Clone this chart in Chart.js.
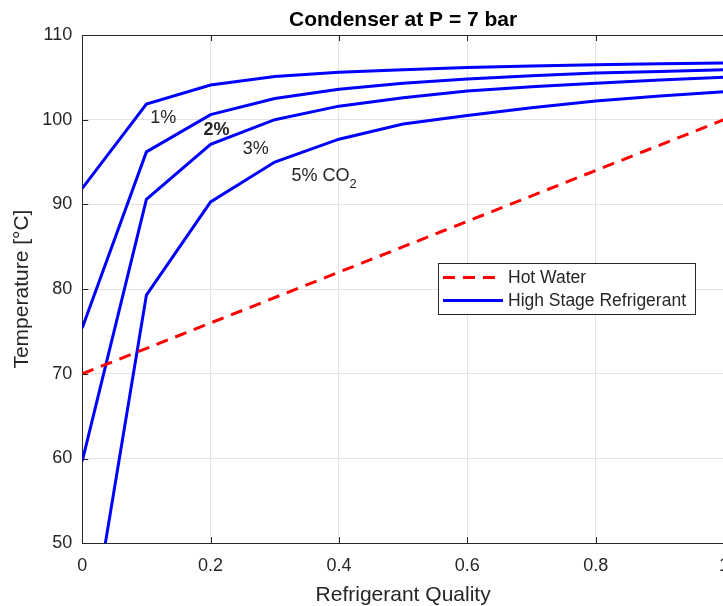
<!DOCTYPE html>
<html>
<head>
<meta charset="utf-8">
<script src="https://cdn.jsdelivr.net/npm/chart.js@4/dist/chart.umd.min.js"></script>
<style>
  html, body { margin: 0; padding: 0; background: #fff; overflow: hidden; }
  #wrap { position: relative; width: 741px; height: 606px; }
</style>
</head>
<body>
<div id="wrap"><canvas id="condenserChart"></canvas></div>
<script>
const quality = [0, 0.1, 0.2, 0.3, 0.4, 0.5, 0.6, 0.7, 0.8, 0.9, 1.0];
const refrig1 = [91.9, 101.85, 104.1, 105.1, 105.6, 105.9, 106.15, 106.35, 106.5, 106.6, 106.7];
const refrig2 = [75.4, 96.2, 100.6, 102.5, 103.6, 104.3, 104.8, 105.2, 105.5, 105.7, 105.9];
const refrig3 = [59.7, 90.6, 97.1, 100.0, 101.6, 102.6, 103.4, 103.9, 104.3, 104.7, 105.0];
const refrig5 = [33.5, 79.3, 90.3, 95.0, 97.7, 99.5, 100.5, 101.4, 102.2, 102.8, 103.3];
const hotWaterQuality = [0, 1];
const hotWater = [70, 100];
const xTicks = [0, 0.2, 0.4, 0.6, 0.8, 1];
const yTicks = [50, 60, 70, 80, 90, 100, 110];

const FONT = "'Liberation Sans', Arial, sans-serif";
const TEXT = "#262626";
const BLUE = "#0000ff";
const RED = "#ff0000";

const toPoints = (xs, ys) => xs.map((x, i) => ({ x, y: ys[i] }));

const blueLine = (label, ys, inLegend) => ({
  label,
  data: toPoints(quality, ys),
  borderColor: BLUE,
  backgroundColor: BLUE,
  borderWidth: 3,
  pointRadius: 0,
  tension: 0,
  showLine: true,
  inLegend,
});

// title centred over the plot area, not the canvas
const titlePlugin = {
  id: "axesTitle",
  afterDraw(chart) {
    const { ctx, chartArea: a } = chart;
    ctx.save();
    ctx.fillStyle = "#000";
    ctx.font = "bold 21px " + FONT;
    ctx.textAlign = "center";
    ctx.textBaseline = "middle";
    ctx.fillText("Condenser at P = 7 bar", (a.left + a.right) / 2, a.top - 15);
    ctx.restore();
  },
};

// MATLAB-like box: inward ticks and top edge
const boxPlugin = {
  id: "box",
  afterDraw(chart) {
    const { ctx, chartArea: a, scales } = chart;
    ctx.save();
    ctx.strokeStyle = TEXT;
    ctx.lineWidth = 1;
    ctx.beginPath();
    ctx.moveTo(a.left, a.top + 0.5);
    ctx.lineTo(a.right, a.top + 0.5);
    xTicks.forEach((v) => {
      const px = Math.round(scales.x.getPixelForValue(v)) + 0.5;
      ctx.moveTo(px, a.bottom);
      ctx.lineTo(px, a.bottom - 6);
      ctx.moveTo(px, a.top);
      ctx.lineTo(px, a.top + 6);
    });
    yTicks.forEach((v) => {
      const py = Math.round(scales.y.getPixelForValue(v)) + 0.5;
      ctx.moveTo(a.left, py);
      ctx.lineTo(a.left + 6, py);
    });
    ctx.stroke();
    ctx.restore();
  },
};

// text labels next to the curves
const curveLabels = [
  { text: "1%", x: 0.106, y: 100.2, bold: false },
  { text: "2%", x: 0.189, y: 98.8, bold: true },
  { text: "3%", x: 0.25, y: 96.5, bold: false },
  { text: "5% CO", sub: "2", x: 0.326, y: 93.3, bold: false },
];

const labelPlugin = {
  id: "curveLabels",
  afterDatasetsDraw(chart) {
    const { ctx, scales } = chart;
    ctx.save();
    ctx.fillStyle = TEXT;
    ctx.textBaseline = "middle";
    ctx.textAlign = "left";
    curveLabels.forEach((l) => {
      const px = scales.x.getPixelForValue(l.x);
      const py = scales.y.getPixelForValue(l.y);
      ctx.font = (l.bold ? "bold " : "") + "18px " + FONT;
      ctx.fillText(l.text, px, py);
      if (l.sub) {
        const w = ctx.measureText(l.text).width;
        ctx.font = "13px " + FONT;
        ctx.fillText(l.sub, px + w, py + 8);
      }
    });
    ctx.restore();
  },
};

// legend box inside the plot area
const legendPlugin = {
  id: "boxLegend",
  afterDatasetsDraw(chart) {
    const { ctx, chartArea: a } = chart;
    const items = chart.data.datasets.filter((d) => d.inLegend);
    const w = 257, h = 51;
    const left = a.right - 29 - w;
    const top = a.top + 228;
    ctx.save();
    ctx.fillStyle = "#fff";
    ctx.fillRect(left, top, w, h);
    ctx.strokeStyle = "#262626";
    ctx.lineWidth = 1;
    ctx.strokeRect(left + 0.5, top + 0.5, w, h);
    ctx.font = "17.5px " + FONT;
    ctx.textBaseline = "middle";
    items.forEach((d, i) => {
      const y = top + 14.5 + i * 23;
      ctx.strokeStyle = d.borderColor;
      ctx.lineWidth = d.borderWidth;
      ctx.setLineDash(d.borderDash || []);
      ctx.beginPath();
      ctx.moveTo(left + 5, y);
      ctx.lineTo(left + 65, y);
      ctx.stroke();
      ctx.setLineDash([]);
      ctx.fillStyle = TEXT;
      ctx.fillText(d.label, left + 70, y + 1);
    });
    ctx.restore();
  },
};

new Chart(document.getElementById("condenserChart"), {
  type: "scatter",
  data: {
    datasets: [
      {
        label: "Hot Water",
        data: toPoints(hotWaterQuality, hotWater),
        borderColor: RED,
        backgroundColor: RED,
        borderWidth: 3,
        borderDash: [12, 8],
        pointRadius: 0,
        showLine: true,
        inLegend: true,
      },
      blueLine("High Stage Refrigerant", refrig1, true),
      blueLine("2%", refrig2, false),
      blueLine("3%", refrig3, false),
      blueLine("5% CO2", refrig5, false),
    ],
  },
  options: {
    responsive: true,
    maintainAspectRatio: false,
    animation: false,
    layout: { padding: { top: 35, right: 0, bottom: 0, left: 10 } },
    plugins: {
      legend: { display: false },
      tooltip: { enabled: false },
      title: { display: false },
    },
    scales: {
      x: {
        type: "linear",
        min: 0,
        max: 1,
        afterBuildTicks(axis) {
          axis.ticks = xTicks.map((value) => ({ value }));
        },
        ticks: {
          color: TEXT,
          font: { family: FONT, size: 18 },
          padding: 12,
          callback: (v) => String(v),
        },
        grid: { color: "#e3e3e3", drawTicks: false },
        border: { color: TEXT, width: 1 },
        title: {
          display: true,
          text: "Refrigerant Quality",
          color: TEXT,
          font: { family: FONT, size: 21 },
          padding: { top: -6, bottom: -2 },
        },
      },
      y: {
        type: "linear",
        min: 50,
        max: 110,
        afterBuildTicks(axis) {
          axis.ticks = yTicks.map((value) => ({ value }));
        },
        ticks: {
          color: TEXT,
          font: { family: FONT, size: 18 },
          padding: 10,
        },
        grid: { color: "#e3e3e3", drawTicks: false },
        border: { color: TEXT, width: 1 },
        title: {
          display: true,
          text: "Temperature [°C]",
          color: TEXT,
          font: { family: FONT, size: 21 },
          padding: { top: 0, bottom: -3 },
        },
      },
    },
  },
  plugins: [boxPlugin, labelPlugin, legendPlugin, titlePlugin],
});
</script>
</body>
</html>
